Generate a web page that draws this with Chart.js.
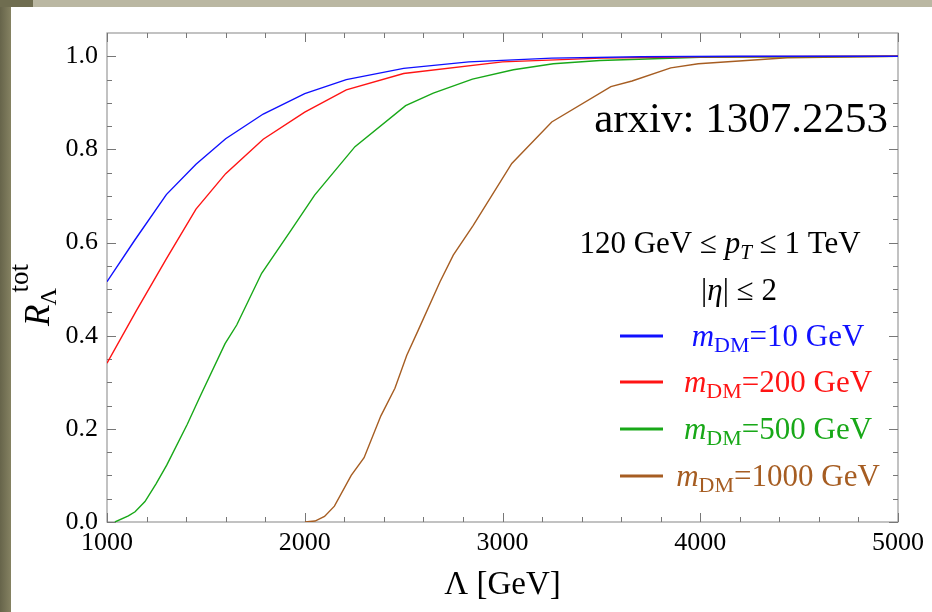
<!DOCTYPE html>
<html>
<head>
<meta charset="utf-8">
<script src="https://cdn.jsdelivr.net/npm/chart.js@4.4.1/dist/chart.umd.min.js"></script>
<style>
  html, body { margin: 0; padding: 0; }
  body { width: 932px; height: 612px; position: relative; overflow: hidden; background: #bab7a2; }
  #sideBar { position: absolute; left: 0; top: 0; width: 11px; height: 612px; background: linear-gradient(to right, #66644a, #858262); }
  #corner { position: absolute; left: 0; top: 0; width: 33px; height: 7px; background: #6f6d50; }
  #sheet { position: absolute; left: 11px; top: 7px; right: 0; bottom: 0; background: #fff; }
  #plot { position: absolute; left: 0; top: 0; }
</style>
</head>
<body>
<div id="sideBar"></div>
<div id="corner"></div>
<div id="sheet"></div>
<canvas id="plot" width="932" height="612"></canvas>
<script>
// R_Lambda^tot vs Lambda [GeV], one curve per dark matter mass
const blueLambda = [1000, 1140, 1300, 1450, 1600, 1790, 2000, 2210, 2500, 2830, 3250, 3700, 4200, 5000];
const blueR      = [0.516, 0.605, 0.703, 0.768, 0.823, 0.876, 0.920, 0.950, 0.974, 0.988, 0.996, 0.999, 1.0, 1.0];

const redLambda = [1000, 1150, 1300, 1450, 1600, 1790, 2000, 2210, 2500, 3000, 3500, 4000, 5000];
const redR      = [0.341, 0.455, 0.565, 0.672, 0.748, 0.822, 0.880, 0.928, 0.963, 0.988, 0.996, 0.999, 1.0];

const greenLambda = [1040, 1108, 1142, 1192, 1248, 1302, 1406, 1470, 1597, 1656, 1782, 1925, 2050, 2254, 2510, 2650, 2848, 3055, 3257, 3493, 4000, 5000];
const greenR      = [0.0, 0.013, 0.022, 0.044, 0.082, 0.122, 0.210, 0.269, 0.383, 0.423, 0.534, 0.623, 0.702, 0.806, 0.894, 0.921, 0.951, 0.971, 0.984, 0.991, 0.998, 1.0];

const brownLambda = [2001, 2052, 2100, 2150, 2235, 2300, 2385, 2456, 2516, 2574, 2684, 2751, 2852, 3047, 3249, 3548, 3655, 3851, 3990, 4440, 5000];
const brownR      = [0.0, 0.002, 0.012, 0.034, 0.100, 0.138, 0.228, 0.287, 0.358, 0.412, 0.516, 0.573, 0.637, 0.770, 0.859, 0.935, 0.947, 0.975, 0.984, 0.997, 1.0];

const massLabels = ['10', '200', '500', '1000'];   // m_DM in GeV
const xTickValues = [1000, 2000, 3000, 4000, 5000];
const yTickValues = [0, 0.2, 0.4, 0.6, 0.8, 1.0];

const colors = ['#1010ff', '#ff1414', '#18a818', '#a65d22'];
const serif = "'Liberation Serif', 'DejaVu Serif', serif";

function toPoints(xs, ys) {
  return xs.map((x, i) => ({ x: x, y: ys[i] }));
}

// frame with inward ticks on all four sides (Mathematica style)
const framePlugin = {
  id: 'frame',
  beforeDatasetsDraw(chart) {
    const ctx = chart.ctx;
    const a = chart.chartArea;
    const xs = chart.scales.x, ys = chart.scales.y;
    ctx.save();
    ctx.strokeStyle = '#9a9a9a';
    ctx.lineWidth = 1.2;
    ctx.strokeRect(a.left, a.top, a.right - a.left, a.bottom - a.top);
    ctx.strokeStyle = '#777';
    ctx.lineWidth = 1;
    ctx.beginPath();
    for (let v = 1000; v <= 5000; v += 200) {
      const px = Math.round(xs.getPixelForValue(v)) + 0.5;
      const len = v % 1000 === 0 ? 9 : 5;
      ctx.moveTo(px, a.bottom); ctx.lineTo(px, a.bottom - len);
      ctx.moveTo(px, a.top); ctx.lineTo(px, a.top + len);
    }
    for (let k = 0; k <= 20; k++) {
      const py = Math.round(ys.getPixelForValue(k * 0.05)) + 0.5;
      const len = k % 4 === 0 ? 9 : 5;
      ctx.moveTo(a.left, py); ctx.lineTo(a.left + len, py);
      ctx.moveTo(a.right, py); ctx.lineTo(a.right - len, py);
    }
    ctx.stroke();
    ctx.restore();
  }
};

// draw a run of [text, font, dy] pieces, centred on cx (or ending at cx)
function drawRuns(ctx, runs, cx, baseY, color, align) {
  let total = 0;
  runs.forEach(r => { ctx.font = r[1]; total += ctx.measureText(r[0]).width; });
  let x = align === 'right' ? cx - total : cx - total / 2;
  ctx.fillStyle = color;
  ctx.textAlign = 'left';
  ctx.textBaseline = 'alphabetic';
  runs.forEach(r => {
    ctx.font = r[1];
    ctx.fillText(r[0], x, baseY + (r[2] || 0));
    x += ctx.measureText(r[0]).width;
  });
}

const notesPlugin = {
  id: 'notes',
  afterDraw(chart) {
    const ctx = chart.ctx;
    ctx.save();

    // y axis title: R_Lambda^tot, rotated
    ctx.save();
    ctx.translate(49, 326);
    ctx.rotate(-Math.PI / 2);
    ctx.fillStyle = '#000';
    ctx.textAlign = 'left';
    ctx.textBaseline = 'alphabetic';
    ctx.font = 'italic 35px ' + serif;
    ctx.fillText('R', 0, 0);
    const rw = ctx.measureText('R').width;
    ctx.font = '24px ' + serif;
    ctx.fillText('Λ', rw - 1, 7);
    ctx.font = '27px ' + serif;
    ctx.fillText('tot', rw + 12, -21);
    ctx.restore();

    drawRuns(ctx, [['arxiv: 1307.2253', '43px ' + serif]], 888, 132, '#000', 'right');

    drawRuns(ctx, [
      ['120 GeV ≤ ', '31px ' + serif],
      ['p', 'italic 31px ' + serif],
      ['T', 'italic 21px ' + serif, 6],
      [' ≤ 1 TeV', '31px ' + serif]
    ], 720, 253, '#000');

    drawRuns(ctx, [
      ['|', '31px ' + serif],
      ['η', 'italic 31px ' + serif],
      ['| ≤ 2', '31px ' + serif]
    ], 739, 300, '#000');

    const legendY = [336, 382, 429, 476];
    massLabels.forEach((m, i) => {
      ctx.strokeStyle = colors[i];
      ctx.lineWidth = 3;
      ctx.beginPath();
      ctx.moveTo(620, legendY[i]);
      ctx.lineTo(663, legendY[i]);
      ctx.stroke();
      drawRuns(ctx, [
        ['m', 'italic 31px ' + serif],
        ['DM', '22px ' + serif, 6],
        ['=' + m + ' GeV', '31px ' + serif]
      ], 778, legendY[i] + 10, colors[i]);
    });
    ctx.restore();
  }
};

const seriesX = [blueLambda, redLambda, greenLambda, brownLambda];
const seriesY = [blueR, redR, greenR, brownR];

new Chart(document.getElementById('plot'), {
  type: 'line',
  data: {
    datasets: seriesX.map((xs, i) => ({
      label: 'm_DM=' + massLabels[i] + ' GeV',
      data: toPoints(xs, seriesY[i]),
      borderColor: colors[i],
      borderWidth: 1.4,
      pointRadius: 0,
      tension: 0,
      fill: false
    }))
  },
  options: {
    responsive: false,
    animation: false,
    layout: { padding: { left: 0, right: 34, top: 33, bottom: 0 } },
    plugins: { legend: { display: false }, tooltip: { enabled: false } },
    scales: {
      x: {
        type: 'linear',
        min: 1000,
        max: 5000,
        afterBuildTicks: s => { s.ticks = xTickValues.map(v => ({ value: v })); },
        afterFit: s => { s.height = 90; },
        grid: { display: false, drawTicks: false },
        border: { display: false },
        ticks: { color: '#000', font: { family: serif, size: 26 }, padding: 6, maxRotation: 0, autoSkip: false, callback: v => String(v) },
        title: { display: true, text: 'Λ [GeV]', color: '#000', font: { family: serif, size: 33 }, padding: { top: 0, bottom: 7 } }
      },
      y: {
        min: 0,
        max: 1.05,
        afterBuildTicks: s => { s.ticks = yTickValues.map(v => ({ value: v })); },
        afterFit: s => { s.width = 107; },
        grid: { display: false, drawTicks: false },
        border: { display: false },
        ticks: { color: '#000', font: { family: serif, size: 26 }, padding: 9, callback: v => v.toFixed(1) }
      }
    }
  },
  plugins: [framePlugin, notesPlugin]
});
</script>
</body>
</html>
